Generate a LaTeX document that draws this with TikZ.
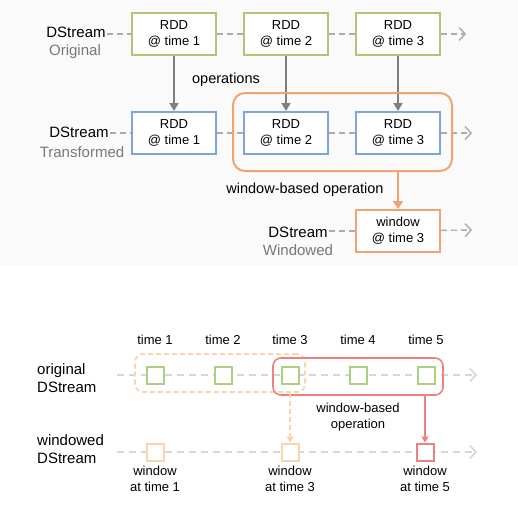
\documentclass[tikz,border=0pt]{standalone}
\usepackage{fontspec}
\setmainfont{Liberation Sans}
\usepackage{tikz}
\usetikzlibrary{positioning,arrows.meta,fit,backgrounds}
\definecolor{dsGreen}{RGB}{176,198,116}
\definecolor{dsBlue}{RGB}{128,164,212}
\definecolor{dsOrange}{RGB}{240,164,116}
\definecolor{dsPeach}{RGB}{250,212,176}
\definecolor{dsRed}{RGB}{238,128,128}
\definecolor{dsLeaf}{RGB}{174,206,128}
\definecolor{dsGray}{RGB}{128,128,128}
\definecolor{dsText}{RGB}{120,120,120}
\definecolor{dsDash}{RGB}{172,172,172}
\definecolor{dsFaint}{RGB}{214,214,214}
\definecolor{dsBack}{RGB}{250,250,250}
\tikzset{
  rdd/.style={rectangle,draw=#1,fill=white,line width=2pt,
    minimum width=84pt,minimum height=42pt,align=center,
    font=\fontsize{13}{16}\selectfont},
  rdd/.default=dsGreen,
  slot/.style={rectangle,draw=#1,fill=white,line width=2pt,
    minimum size=17pt,inner sep=0pt},
  slot/.default=dsLeaf,
  sname/.style={font=\fontsize{15}{18}\selectfont,inner sep=1pt},
  skind/.style={font=\fontsize{15}{18}\selectfont,text=dsText,inner sep=1pt},
  note/.style={font=\fontsize{14.5}{17}\selectfont,inner sep=1pt},
  tnote/.style={font=\fontsize{13}{16}\selectfont,align=center,inner sep=1pt},
  flow/.style={draw=dsDash,line width=1.4pt,dash pattern=on 6pt off 4pt},
  flowend/.style={flow,-{Straight Barb[length=6pt,width=13pt,line width=1.4pt]}},
  thinflow/.style={draw=dsFaint,line width=1.6pt,dash pattern=on 7pt off 5pt},
  thinend/.style={thinflow,-{Straight Barb[length=6pt,width=13pt,line width=1.6pt]}},
  op/.style={draw=dsGray,line width=1.8pt,-{Triangle[length=8pt,width=9pt]}},
  win/.style={rectangle,draw=dsOrange,line width=2pt,rounded corners=12pt,inner sep=0pt},
  winop/.style={draw=dsOrange,line width=2.2pt,-{Triangle[length=8pt,width=10pt]}},
  pastwin/.style={rectangle,draw=dsPeach,line width=1.8pt,dash pattern=on 5pt off 3pt,
    rounded corners=8pt,inner sep=0pt},
  curwin/.style={rectangle,draw=dsRed,line width=1.6pt,rounded corners=8pt,inner sep=0pt},
  pastop/.style={draw=dsPeach,line width=1.8pt,dash pattern=on 5pt off 3pt,
    -{Triangle[length=6pt,width=7pt]}},
  curop/.style={draw=dsRed,line width=1.6pt,-{Triangle[length=6pt,width=7pt]}}
}
\begin{document}
\begin{tikzpicture}[x=1pt,y=-1pt]
  \useasboundingbox (0,0) rectangle (518,512);

  % original stream
  \node[sname, anchor=base] (ods) at (76,37) {DStream};
  \node[skind, anchor=base] (okind) at (75,55) {Original};
  \node[rdd] (o1) at (174,34) {RDD\\@ time 1};
  \node[rdd, right=26pt of o1] (o2) {RDD\\@ time 2};
  \node[rdd, right=26pt of o2] (o3) {RDD\\@ time 3};
  \coordinate (oend) at (466,34);

  % transformed stream
  \node[rdd=dsBlue, below=55pt of o1] (t1) {RDD\\@ time 1};
  \node[rdd=dsBlue, below=55pt of o2] (t2) {RDD\\@ time 2};
  \node[rdd=dsBlue, below=55pt of o3] (t3) {RDD\\@ time 3};
  \node[sname, anchor=base] (tds) at (79,137) {DStream};
  \node[skind, anchor=base] (tkind) at (82,157) {Transformed};
  \coordinate (tend) at (472,133);
  \draw[op] (o1) -- (t1);
  \draw[op] (o2) -- (t2);
  \draw[op] (o3) -- (t3);
  \node[note, anchor=base] (ops) at (226,83) {operations};

  % window over transformed RDDs
  \coordinate (wtl) at (233,93);
  \coordinate (wbr) at (452,171);
  \node[win, fit=(wtl)(wbr)] (wrange) {};
  \node[rdd=dsOrange, below=54pt of t3] (wt) {window\\@ time 3};
  \draw[winop] (wrange.south -| wt.north) -- (wt.north);
  \node[note, anchor=base] (wop) at (305,193) {window-based operation};
  \node[sname, anchor=base] (wds) at (298,237) {DStream};
  \node[skind, anchor=base] (wkind) at (298,255) {Windowed};
  \coordinate (wend) at (472,230);

  \begin{scope}[on background layer]
    \fill[dsBack] (0,0) rectangle (518,266);
    \draw[flow] (ods.east |- o1) -- (o1.west);
    \draw[flow] (o1) -- (o2);
    \draw[flow] (o2) -- (o3);
    \draw[flowend] (o3) -- (oend);
    \draw[flow] (tds.east |- t1) -- (t1.west);
    \draw[flow] (t1) -- (t2);
    \draw[flow] (t2) -- (t3);
    \draw[flowend] (t3) -- (tend);
    \draw[flow] (wds.east |- wt) -- (wt.west);
    \draw[flowend] (wt) -- (wend);
  \end{scope}

  % lower diagram: time slots
  \node[tnote, anchor=base] (tm1) at (155,344) {time 1};
  \node[tnote, anchor=base] (tm2) at (223,344) {time 2};
  \node[tnote, anchor=base] (tm3) at (290,344) {time 3};
  \node[tnote, anchor=base] (tm4) at (358,344) {time 4};
  \node[tnote, anchor=base] (tm5) at (426,344) {time 5};
  \node[sname, align=left, anchor=base west] (olbl) at (36,392) {original\\DStream};
  \node[sname, align=left, anchor=base west] (wlbl) at (36,463) {windowed\\DStream};

  \coordinate (sstart) at (117,375);
  \coordinate (send) at (477,375);
  \coordinate (pstart) at (117,452);
  \coordinate (pend) at (477,452);
  \draw[thinflow] (sstart) -- (send);
  \draw[thinend] (send) ++(-12,0) -- (send);
  \draw[thinflow] (pstart) -- (pend);
  \draw[thinend] (pend) ++(-12,0) -- (pend);

  % windows over the slots
  \coordinate (pa) at (135,354);
  \coordinate (pb) at (305,392);
  \node[pastwin, fit=(pa)(pb)] (past) {};
  \coordinate (ca) at (273,358);
  \coordinate (cb) at (443,395);
  \node[curwin, fit=(ca)(cb)] (cur) {};

  \node[slot] (s1) at (155,375) {};
  \node[slot] (s2) at (223,375) {};
  \node[slot] (s3) at (290,375) {};
  \node[slot] (s4) at (358,375) {};
  \node[slot] (s5) at (426,375) {};

  \node[slot=dsPeach] (w1) at (155,452) {};
  \node[slot=dsPeach] (w3) at (290,452) {};
  \node[slot=dsRed] (w5) at (425,452) {};
  \draw[pastop] (past.south -| w3.north) -- (w3.north);
  \draw[curop] (cur.south -| w5.north) -- (w5.north);
  \node[tnote, anchor=base] (wbo) at (358,428) {window-based\\operation};

  \node[tnote, anchor=base] (wl1) at (155,491) {window\\at time 1};
  \node[tnote, anchor=base] (wl3) at (290,491) {window\\at time 3};
  \node[tnote, anchor=base] (wl5) at (425,491) {window\\at time 5};
\end{tikzpicture}
\end{document}
